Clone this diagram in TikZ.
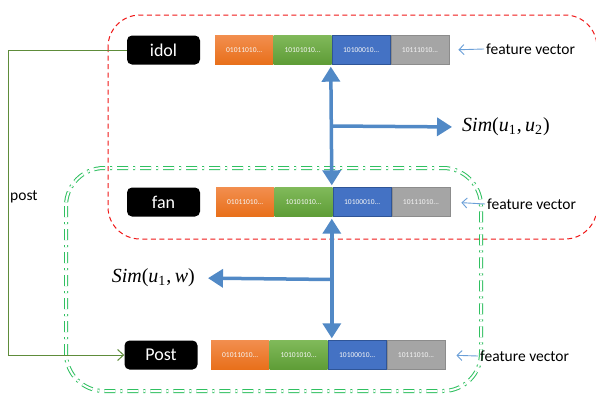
\documentclass[tikz,border=0pt]{standalone}
\usepackage{fontspec}
\setmainfont{Carlito}
\newfontfamily\timesfont{Liberation Serif}
\usetikzlibrary{arrows.meta,calc}

\definecolor{segorangeA}{HTML}{F28E4E}
\definecolor{segorangeB}{HTML}{E86F1A}
\definecolor{seggreenA}{HTML}{80B95A}
\definecolor{seggreenB}{HTML}{5E9C36}
\definecolor{segblue}{HTML}{4472C4}
\definecolor{segblueedge}{HTML}{2F5597}
\definecolor{seggray}{HTML}{A5A5A5}
\definecolor{seggrayedge}{HTML}{8C8C8C}
\definecolor{flowblue}{HTML}{5189C6}
\definecolor{thinblue}{HTML}{6A9FD8}
\definecolor{postgreen}{HTML}{5E8C3A}
\definecolor{groupgreen}{HTML}{2FC060}
\definecolor{groupred}{HTML}{F01818}

\tikzset{
  tag/.style={fill=black, text=white, rounded corners=5pt, minimum width=73pt,
    minimum height=29pt, inner sep=0pt, font=\fontsize{18}{21}\selectfont},
  seg/.style={minimum width=58pt, minimum height=29pt, inner sep=0pt, anchor=west,
    text=white!92!gray, font=\fontsize{7.5}{9}\selectfont},
  segO/.style={seg, top color=segorangeA, bottom color=segorangeB},
  segG/.style={seg, top color=seggreenA, bottom color=seggreenB},
  segB/.style={seg, fill=segblue, draw=segblueedge, line width=0.8pt},
  segY/.style={seg, fill=seggray, draw=seggrayedge, line width=0.8pt},
  fvtext/.style={anchor=west, inner sep=2pt, font=\fontsize{15.5}{18}\selectfont},
  fvarrow/.style={draw=thinblue, line width=0.9pt, -{Straight Barb[length=5pt,width=10pt]}},
  simtext/.style={inner sep=2pt, font=\timesfont\fontsize{20}{24}\selectfont},
  flow/.style={draw=flowblue, line width=3.5pt,
    arrows={-Triangle[width=18pt,length=15pt,fill=flowblue]}},
  flowboth/.style={draw=flowblue, line width=3.5pt,
    arrows={Triangle[width=18pt,length=15pt,fill=flowblue]-Triangle[width=18pt,length=15pt,fill=flowblue]}},
  postline/.style={draw=postgreen, line width=1pt, -{Straight Barb[length=6pt,width=11pt]}},
  redgroup/.style={draw=groupred, line width=1pt, dash pattern=on 5pt off 3.5pt, rounded corners=32pt},
  greengroup/.style={draw=groupgreen, line width=1pt, double=white, double distance=2pt,
    dash pattern=on 11pt off 5pt on 2pt off 5pt, rounded corners=38pt},
}

\begin{document}
\begin{tikzpicture}[x=1pt, y=-1pt]
\clip (0,0) rectangle (596,394);
\fill[white] (0,0) rectangle (596,394);

% group outlines
\draw[redgroup] (108,15) rectangle (597,239);
\draw[greengroup] (66,168) rectangle (481,391);

% entity tags
\node[tag] (idol) at (163.5,50) {idol};
\node[tag] (fan) at (163.5,202) {fan};
\node[tag] (post) at (161,355) {Post};

% feature vectors
\node[segO] (i1) at (215,50) {01011010...};
\node[segG] (i2) at (i1.east) {10101010...};
\node[segB] (i3) at (i2.east) {10100010...};
\node[segY] (i4) at (i3.east) {10111010...};

\node[segO] (f1) at (216,202) {01011010...};
\node[segG] (f2) at (f1.east) {10101010...};
\node[segB] (f3) at (f2.east) {10100010...};
\node[segY] (f4) at (f3.east) {10111010...};

\node[segO] (p1) at (211,355) {01011010...};
\node[segG] (p2) at (p1.east) {10101010...};
\node[segB] (p3) at (p2.east) {10100010...};
\node[segY] (p4) at (p3.east) {10111010...};

% feature vector captions
\node[fvtext] (fi) at (484,49) {feature vector};
\node[fvtext] (ff) at (485,204) {feature vector};
\node[fvtext] (fp) at (478,356) {feature vector};
\draw[fvarrow, shorten >=9pt] (fi.west) -- (i4.east);
\draw[fvarrow, shorten >=11pt] (ff.west) -- (f4.east);
\draw[fvarrow, shorten >=11pt] (fp.west) -- (p4.east);

% similarity between users
\coordinate (ti) at ($(i2.south east)+(-1,2)$);
\coordinate (tf) at ($(f2.north east)+(-1,-2)$);
\draw[flowboth] (ti) -- (tf);
\coordinate (j1) at ($(ti)!0.5!(tf)$);
\node[simtext, anchor=west] (s1) at (460,127) {\textit{Sim}(\textit{u}\textsubscript{1}\kern0.5pt,\,\textit{u}\textsubscript{2}\kern0.5pt)};
\draw[flow, shorten >=8pt] (j1) -- (s1.west);

% similarity between user and post
\coordinate (bf) at ($(f2.south east)+(-1,2)$);
\coordinate (bp) at (bf |- p2.north);
\draw[flowboth, shorten >=2pt] (bf) -- (bp);
\coordinate (j2) at ($(bf)!0.5!(bp)$);
\node[simtext, anchor=east] (s2) at (197,278) {\textit{Sim}(\textit{u}\textsubscript{1}\kern0.5pt,\,\textit{w})};
\draw[flow, shorten >=11pt] (j2) -- (s2.east);

% posting relation
\coordinate (bend) at (8,50);
\draw[postline] (idol.west) -- (bend) |- (post.west);
\node[anchor=west, inner sep=0pt, font=\fontsize{15.5}{18}\selectfont] (plabel) at (10,197) {post};
\end{tikzpicture}
\end{document}
